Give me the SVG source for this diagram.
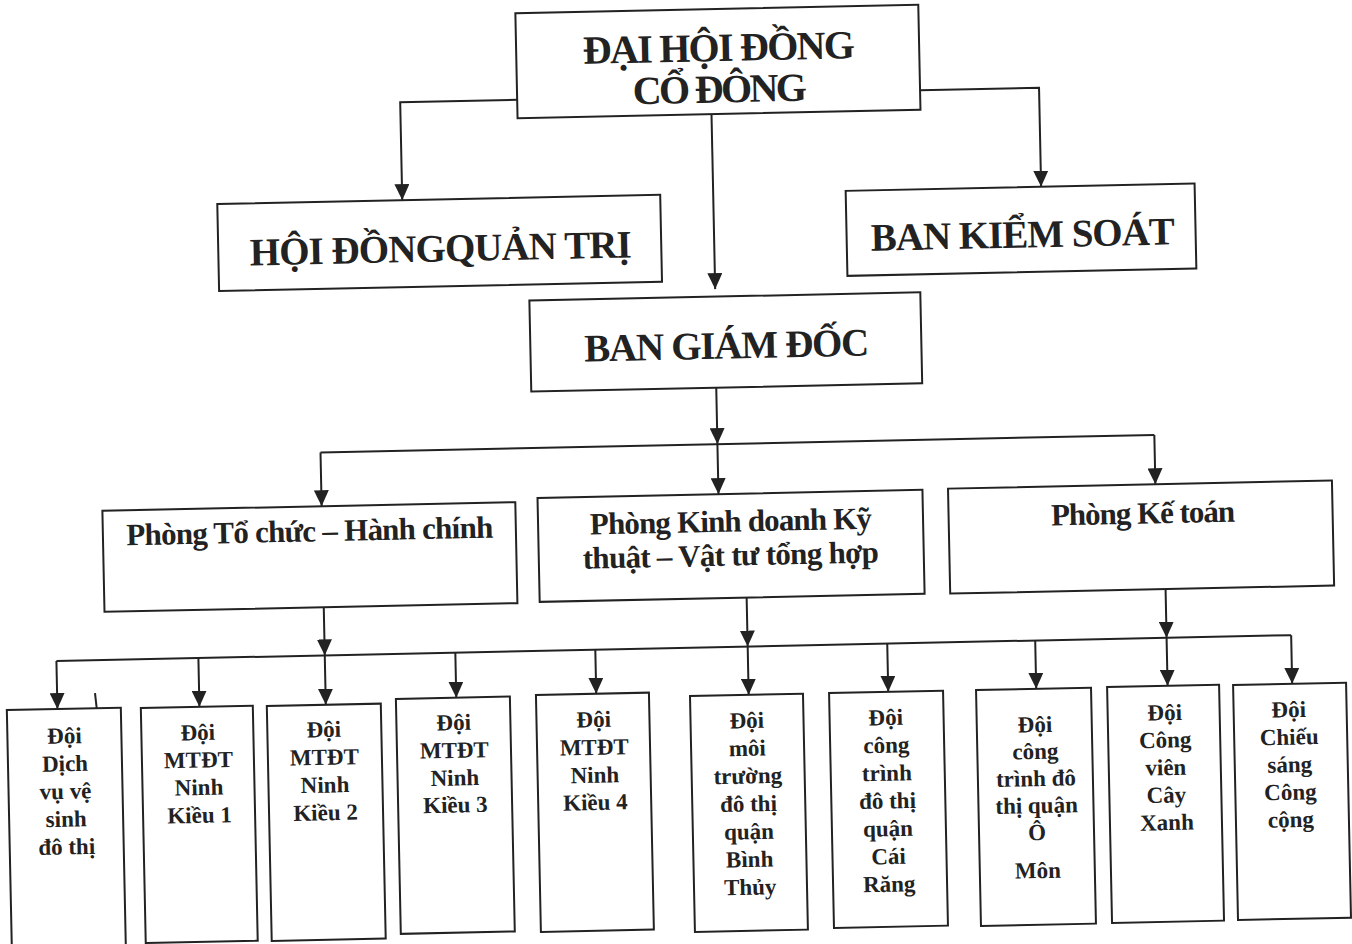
<svg xmlns="http://www.w3.org/2000/svg" width="1352" height="944" viewBox="0 0 1352 944">
<defs>
<style>
.box{fill:#fff;stroke:#222;stroke-width:2}
.ln{fill:none;stroke:#222;stroke-width:2}
.ar{marker-end:url(#ah)}
text{font-family:"Liberation Serif","Times New Roman",serif;font-weight:bold;fill:#222;text-anchor:middle}
.t1{font-size:40px}
.t2{font-size:39px}
.t3{font-size:31px}
.t4{font-size:23px}
</style>
<marker id="ah" viewBox="0 0 16 15" refX="16" refY="7.5" markerWidth="16" markerHeight="15" markerUnits="userSpaceOnUse" orient="auto">
<path d="M0,0 L16,7.5 L0,15 z" fill="#222"/>
</marker>
</defs>
<rect width="1352" height="944" fill="#fff"/>
<g transform="rotate(-1.2 676 472)">
<g id="connectors">
<path class="ln ar" d="M525,96.5 H408 V194.5"/>
<path class="ln ar" d="M928,95.5 H1047 V194.5"/>
<path class="ln ar" d="M719,115 V290"/>
<path class="ln ar" d="M718,388.5 V445"/>
<path class="ln" d="M321,445 H1155"/>
<path class="ln ar" d="M321,445 V498.8"/>
<path class="ln ar" d="M718,445 V495"/>
<path class="ln ar" d="M1155,445 V494.3"/>
<path class="ln ar" d="M321,600 V648"/>
<path class="ln ar" d="M744,599 V648"/>
<path class="ln ar" d="M1163,599.3 V648"/>
<path class="ln" d="M52.6,648 H1287.6"/>
<path class="ln ar" d="M52.6,648 V696"/>
<path class="ln ar" d="M194.6,648 V696.8"/>
<path class="ln ar" d="M321,648 V697.4"/>
<path class="ln ar" d="M451.6,648 V693"/>
<path class="ln ar" d="M591.6,648 V692"/>
<path class="ln ar" d="M744,648 V696.3"/>
<path class="ln ar" d="M883.6,648 V696.2"/>
<path class="ln ar" d="M1031.6,648 V696.3"/>
<path class="ln ar" d="M1163,648 V696"/>
<path class="ln ar" d="M1287.6,648 V696.7"/>
<path class="ln" d="M90.5,681 L92,697.5" stroke-width="1.5"/>
</g>
<g id="n-dhdcd">
<rect class="box" x="525" y="10" width="403" height="105"/>
<text class="t1" x="727.7" y="62" textLength="272">ĐẠI HỘI ĐỒNG</text>
<text class="t1" x="727.8" y="103.5" textLength="174">CỔ ĐÔNG</text>
</g>
<g id="n-hdqt">
<rect class="box" x="223" y="194.5" width="443" height="87"/>
<text class="t2" x="445.4" y="256.5" textLength="382">HỘI ĐỒNGQUẢN TRỊ</text>
</g>
<g id="n-bks">
<rect class="box" x="851.5" y="194.5" width="349" height="85"/>
<text class="t2" x="1027.7" y="254.8" textLength="304">BAN KIỂM SOÁT</text>
</g>
<g id="n-bgd">
<rect class="box" x="533" y="297.5" width="391" height="91"/>
<text class="t2" x="729.4" y="359.6" textLength="285">BAN GIÁM ĐỐC</text>
</g>
<g id="n-tchc">
<rect class="box" x="101.7" y="498.8" width="413" height="101"/>
<text class="t3" x="308.6" y="533.8" textLength="367">Phòng Tổ chức – Hành chính</text>
</g>
<g id="n-kdkt">
<rect class="box" x="537" y="495" width="385" height="104"/>
<text class="t3" x="729.8" y="532.7" textLength="282">Phòng Kinh doanh Kỹ</text>
<text class="t3" x="729" y="566.7" textLength="296">thuật – Vật tư tổng hợp</text>
</g>
<g id="n-kt">
<rect class="box" x="947.6" y="494.3" width="384" height="105"/>
<text class="t3" x="1142" y="533.3" textLength="184">Phòng Kế toán</text>
</g>
<g id="n-b1">
<rect class="box" x="2" y="696" width="114" height="270"/>
<text class="t4"><tspan x="59" y="730.5">Đội</tspan><tspan x="59" y="758.3">Dịch</tspan><tspan x="59" y="786">vụ vệ</tspan><tspan x="59" y="813.8">sinh</tspan><tspan x="59" y="841.5">đô thị</tspan></text>
</g>
<g id="n-b2">
<rect class="box" x="136" y="696.8" width="112" height="235"/>
<text class="t4"><tspan x="192.5" y="730">Đội</tspan><tspan x="192.5" y="757.5">MTĐT</tspan><tspan x="192.5" y="785">Ninh</tspan><tspan x="192.5" y="812.8">Kiều 1</tspan></text>
</g>
<g id="n-b3">
<rect class="box" x="262" y="697.4" width="114" height="235"/>
<text class="t4"><tspan x="318.5" y="729.6">Đội</tspan><tspan x="318.5" y="757.4">MTĐT</tspan><tspan x="318.5" y="785.2">Ninh</tspan><tspan x="318.5" y="812.8">Kiều 2</tspan></text>
</g>
<g id="n-b4">
<rect class="box" x="391.2" y="693" width="114" height="235"/>
<text class="t4"><tspan x="448.5" y="725.4">Đội</tspan><tspan x="448.5" y="753.2">MTĐT</tspan><tspan x="448.5" y="780.8">Ninh</tspan><tspan x="448.5" y="807.8">Kiều 3</tspan></text>
</g>
<g id="n-b5">
<rect class="box" x="531.3" y="692" width="113" height="237"/>
<text class="t4"><tspan x="588.5" y="725.3">Đội</tspan><tspan x="588.5" y="753.1">MTĐT</tspan><tspan x="588.5" y="780.9">Ninh</tspan><tspan x="588.5" y="808.3">Kiều 4</tspan></text>
</g>
<g id="n-b6">
<rect class="box" x="685.3" y="696.3" width="113" height="236"/>
<text class="t4"><tspan x="741.5" y="729.5">Đội</tspan><tspan x="741.5" y="757.3">môi</tspan><tspan x="741.5" y="785">trường</tspan><tspan x="741.5" y="812.8">đô thị</tspan><tspan x="741.5" y="840.6">quận</tspan><tspan x="741.5" y="868.4">Bình</tspan><tspan x="741.5" y="896.2">Thủy</tspan></text>
</g>
<g id="n-b7">
<rect class="box" x="824.4" y="696.2" width="114" height="235"/>
<text class="t4"><tspan x="880.5" y="729.4">Đội</tspan><tspan x="880.5" y="757.2">công</tspan><tspan x="880.5" y="785">trình</tspan><tspan x="880.5" y="812.8">đô thị</tspan><tspan x="880.5" y="840.6">quận</tspan><tspan x="880.5" y="868.4">Cái</tspan><tspan x="880.5" y="896.2">Răng</tspan></text>
</g>
<g id="n-b8">
<rect class="box" x="971.4" y="696.3" width="115" height="236"/>
<text class="t4"><tspan x="1029.5" y="739.6">Đội</tspan><tspan x="1029.5" y="766.4">công</tspan><tspan x="1029.5" y="793.6">trình đô</tspan><tspan x="1029.5" y="820.6">thị quận</tspan><tspan x="1029.5" y="847.6">Ô</tspan><tspan x="1029.5" y="885.6">Môn</tspan></text>
</g>
<g id="n-b9">
<rect class="box" x="1102.5" y="696" width="112" height="236"/>
<text class="t4"><tspan x="1159.5" y="730.3">Đội</tspan><tspan x="1159.5" y="757.8">Công</tspan><tspan x="1159.5" y="785.3">viên</tspan><tspan x="1159.5" y="812.8">Cây</tspan><tspan x="1159.5" y="840.3">Xanh</tspan></text>
</g>
<g id="n-b10">
<rect class="box" x="1228.5" y="696.7" width="113" height="235"/>
<text class="t4"><tspan x="1283.5" y="730">Đội</tspan><tspan x="1283.5" y="757.5">Chiếu</tspan><tspan x="1283.5" y="785">sáng</tspan><tspan x="1283.5" y="812.5">Công</tspan><tspan x="1283.5" y="840">cộng</tspan></text>
</g>
</g>
</svg>
